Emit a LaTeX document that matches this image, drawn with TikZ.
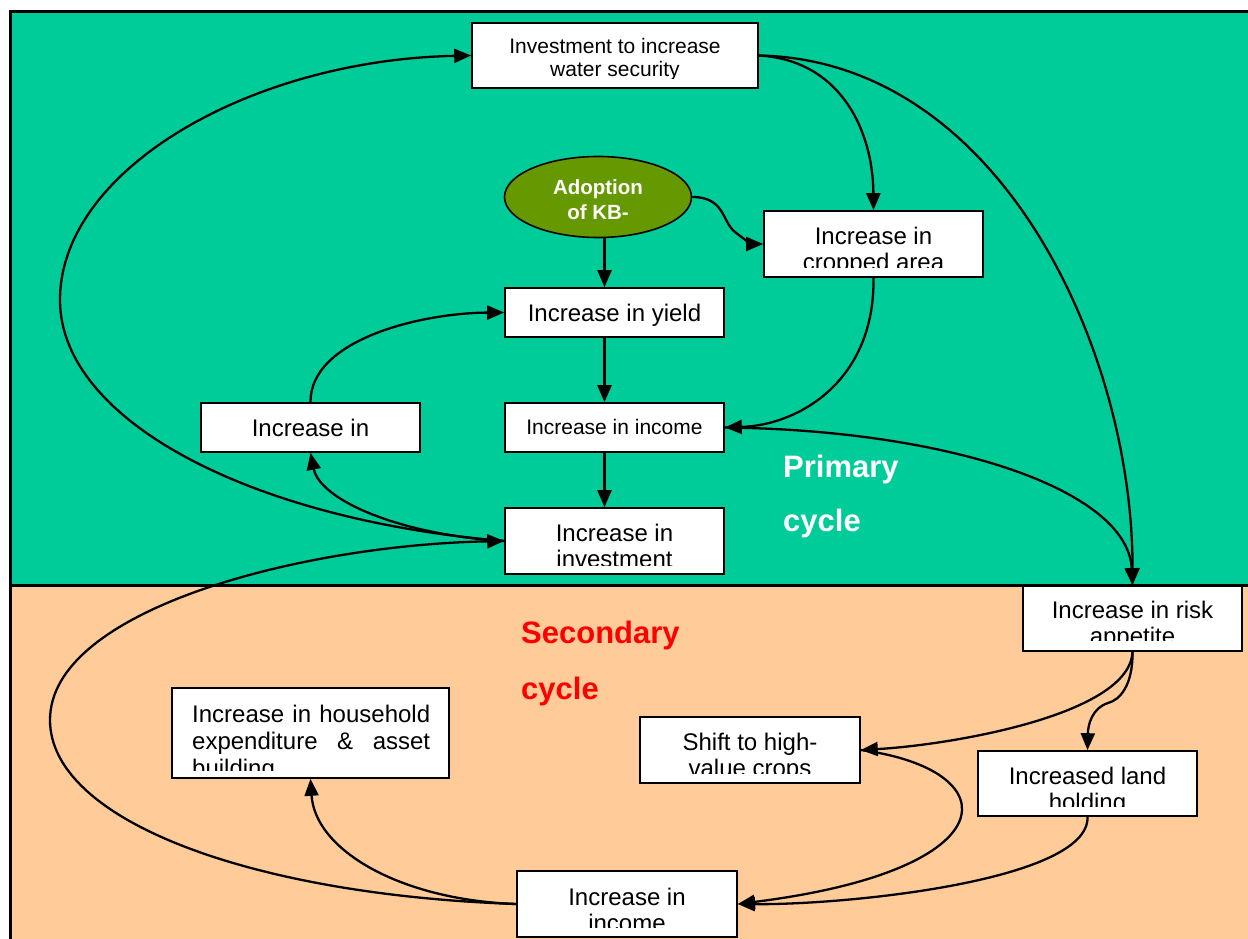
\documentclass[tikz,border=0pt]{standalone}
\usepackage{fontspec}
\setmainfont{Liberation Sans}
\usetikzlibrary{arrows.meta,shapes.geometric}
\definecolor{bggreen}{RGB}{0,204,153}
\definecolor{bgorange}{RGB}{255,204,153}
\definecolor{oliveg}{RGB}{102,153,0}
\tikzset{
  box/.style={draw=black, line width=1.6pt, fill=white, inner sep=0pt},
  con/.style={line width=2.3pt, -{Triangle[length=17pt,width=14pt]}},
  txt/.style={inner sep=0pt, anchor=base, font=\fontsize{24}{28}\selectfont},
  txts/.style={inner sep=0pt, anchor=base, font=\fontsize{21}{25}\selectfont},
  lbl/.style={inner sep=0pt, anchor=base west, font=\fontsize{31}{36}\selectfont\bfseries},
}
\newcommand\Bx[5]{\node[box, minimum width={#4-#2}, minimum height={#5-#3}] (#1) at ({(#2+#4)/2},{(#3+#5)/2}) {};}
\begin{document}
\begin{tikzpicture}[x=1pt,y=-1pt]
\useasboundingbox (0,0) rectangle (1248,939);
% backgrounds
\fill[bggreen] (10,12) rectangle (1248,585);
\fill[bgorange] (10,585) rectangle (1248,939);
\draw[line width=3pt] (1248,12) -- (10,12) -- (10,939);
\draw[line width=3pt] (10,585) -- (1248,585);

% boxes
\Bx{top}{472}{23}{758}{88}
\Bx{crop}{764}{211}{983}{277}
\Bx{yield}{505}{288}{724}{337}
\Bx{lbox}{201}{403}{420}{452}
\Bx{inc}{505}{403}{724}{452}
\Bx{inv}{505}{508}{724}{574}
\Bx{risk}{1023}{586}{1242}{651}
\Bx{land}{978}{751}{1197}{816}
\Bx{shift}{640}{717}{860}{783}
\Bx{hh}{172}{688}{449}{778}
\Bx{binc}{517}{871}{737}{937}
\node[ellipse, draw=black, line width=1.6pt, fill=oliveg, minimum width=187pt, minimum height=81pt, inner sep=0pt] (ell) at (598,197) {};

% texts
\begin{scope}
\clip (472,23) rectangle (758,78.5);
\node[txts] (top-t1) at (615,54) {Investment to increase};
\node[txts] (top-t2) at (615,77) {water security};
\end{scope}
\begin{scope}
\clip (764,211) rectangle (983,267);
\node[txt] (crop-t1) at (873.5,244) {Increase in};
\node[txt] (crop-t2) at (873.5,270) {cropped area};
\end{scope}
\node[txt] (yield-t) at (614.5,321) {Increase in yield};
\node[txt] (lbox-t) at (310.5,436) {Increase in};
\node[txts] (inc-t) at (614.5,434) {Increase in income};
\begin{scope}
\clip (505,508) rectangle (724,565);
\node[txt] (inv-t1) at (614.5,541) {Increase in};
\node[txt] (inv-t2) at (614.5,567) {investment};
\end{scope}
\begin{scope}
\clip (1023,586) rectangle (1242,640);
\node[txt] (risk-t1) at (1132.5,618) {Increase in risk};
\node[txt] (risk-t2) at (1132.5,644) {appetite};
\end{scope}
\begin{scope}
\clip (978,751) rectangle (1197,806);
\node[txt] (land-t1) at (1087.5,784) {Increased land};
\node[txt] (land-t2) at (1087.5,810) {holding};
\end{scope}
\begin{scope}
\clip (640,717) rectangle (860,773);
\node[txt] (shift-t1) at (750,750) {Shift to high-};
\node[txt] (shift-t2) at (750,776) {value crops};
\end{scope}
\begin{scope}
\clip (172,688) rectangle (449,770);
\node[txt, anchor=base west] (hh-t1) at (192,722) {\makebox[238pt][s]{Increase in household}};
\node[txt, anchor=base west] (hh-t2) at (192,749) {\makebox[238pt][s]{expenditure \& asset}};
\node[txt, anchor=base west] (hh-t3) at (192,776) {building};
\end{scope}
\begin{scope}
\clip (517,871) rectangle (737,927);
\node[txt] (binc-t1) at (627,905) {Increase in};
\node[txt] (binc-t2) at (627,931) {income};
\end{scope}
\node[inner sep=0pt, anchor=base, text=white, font=\fontsize{20.5}{24}\selectfont\bfseries] (ell-t1) at (598,194) {Adoption};
\node[inner sep=0pt, anchor=base, text=white, font=\fontsize{20.5}{24}\selectfont\bfseries] (ell-t2) at (598,219) {of KB-};

% cycle labels
\node[lbl, text=white] (prim1) at (783,477) {Primary};
\node[lbl, text=white] (prim2) at (783,531) {cycle};
\node[lbl, text=red] (sec1) at (521,643) {Secondary};
\node[lbl, text=red] (sec2) at (521,699) {cycle};

% connectors
\draw[con] ([xshift=6.5pt]ell.south) -- ([xshift=-10pt]yield.north);
\draw[con] ([xshift=-10pt]yield.south) -- ([xshift=-10pt]inc.north);
\draw[con] ([xshift=-10pt]inc.south) -- ([xshift=-10pt]inv.north);
\draw[con] (ell.east) .. controls (725,197) and (722,222) .. (735,232) .. controls (745,240) and (752,244) .. (crop.west);
\draw[con] (top.east) .. controls (840,60) and (873,130) .. (crop.north);
\draw[con] (top.east) .. controls (1000,60) and (1133,350) .. (risk.north);
\draw[con] (crop.south) .. controls (875,380) and (800,425) .. (inc.east);
\draw[con] (inc.east) .. controls (950,430) and (1128,490) .. (risk.north);
\draw[con] (inv.west) .. controls (250,520) and (60,420) .. (60,300) .. controls (60,170) and (250,60) .. (top.west);
\draw[con] (inv.west) .. controls (400,535) and (320,500) .. (lbox.south);
\draw[con] (lbox.north) .. controls (310,340) and (420,313) .. (yield.west);
\draw[con] (binc.west) .. controls (250,895) and (50,820) .. (50,720) .. controls (50,610) and (300,545) .. (inv.west);
\draw[con] (binc.west) .. controls (400,900) and (315,850) .. (hh.south);
\draw[con] (risk.south) .. controls (1130,715) and (950,745) .. (shift.east);
\draw[con] (risk.south) .. controls (1133,685) and (1120,700) .. (1108,703) .. controls (1092,708) and (1088,725) .. (land.north);
\draw[con] (land.south) .. controls (1090,880) and (850,905) .. (binc.east);
\draw[con] (shift.east) .. controls (1010,770) and (1010,870) .. (binc.east);
\end{tikzpicture}
\end{document}
